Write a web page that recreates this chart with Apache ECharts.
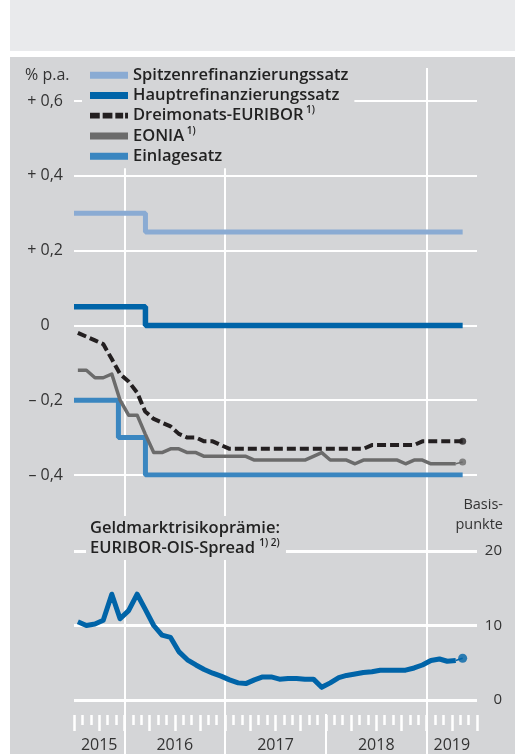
<!DOCTYPE html>
<html>
<head>
<meta charset="utf-8">
<script src="https://cdn.jsdelivr.net/npm/echarts@6/dist/echarts.min.js"></script>
<style>
html, body { margin: 0; padding: 0; background: #fff; }
#wrap { position: relative; width: 515px; height: 754px; }
#top-band { position: absolute; left: 10px; top: 0; width: 505px; height: 50.5px; background: #e9eaec; }
#panel { position: absolute; left: 10px; top: 57px; width: 505px; height: 697px; background: #d4d5d7; }
#main { position: absolute; left: 0; top: 0; width: 515px; height: 754px; }
</style>
</head>
<body>
<div id="wrap">
  <div id="top-band"></div>
  <div id="panel"></div>
  <div id="main"></div>
</div>
<script>
// monthly averages, Jul 2015 .. Apr 2019 (plotted mid-month)
var euribor = [-0.02, -0.03, -0.04, -0.05, -0.09, -0.13,
    -0.15, -0.18, -0.23, -0.25, -0.26, -0.27, -0.29, -0.30, -0.30, -0.31, -0.31, -0.32,
    -0.33, -0.33, -0.33, -0.33, -0.33, -0.33, -0.33, -0.33, -0.33, -0.33, -0.33, -0.33,
    -0.33, -0.33, -0.33, -0.33, -0.33, -0.32, -0.32, -0.32, -0.32, -0.32, -0.32, -0.31,
    -0.31, -0.31, -0.31, -0.31];
var eonia = [-0.12, -0.12, -0.14, -0.14, -0.13, -0.20,
    -0.24, -0.24, -0.29, -0.34, -0.34, -0.33, -0.33, -0.34, -0.34, -0.35, -0.35, -0.35,
    -0.35, -0.35, -0.35, -0.36, -0.36, -0.36, -0.36, -0.36, -0.36, -0.36, -0.35, -0.34,
    -0.36, -0.36, -0.36, -0.37, -0.36, -0.36, -0.36, -0.36, -0.36, -0.37, -0.36, -0.36,
    -0.37, -0.37, -0.37, -0.37];
var spread = [10.5, 10.0, 10.2, 10.7, 14.2, 10.9,
    12.0, 14.2, 12.2, 10.0, 8.7, 8.4, 6.5, 5.4, 4.7, 4.1, 3.6, 3.2,
    2.7, 2.3, 2.2, 2.7, 3.1, 3.1, 2.8, 2.9, 2.9, 2.8, 2.8, 1.7,
    2.3, 3.0, 3.3, 3.5, 3.7, 3.8, 4.0, 4.0, 4.0, 4.0, 4.3, 4.7,
    5.3, 5.5, 5.2, 5.3];

// latest daily values
var lastDate = '2019-05-10';
var lastEuribor = -0.31;
var lastEonia = -0.365;
var lastSpread = 5.6;

// ECB key rates at change dates
var rateDates = ['2015-07-01', '2015-12-09', '2016-03-16', '2019-05-10'];
var spitzen = [0.30, 0.30, 0.25, 0.25];
var haupt = [0.05, 0.05, 0.00, 0.00];
var einlage = [-0.20, -0.30, -0.40, -0.40];

var yearLabels = ['2015', '2016', '2017', '2018', '2019'];
var yearLabelPos = [3, 12, 24, 36, 45];   // month index of label centre
var yearBounds = [6, 18, 30, 42];         // month index of 1 January
var fullYearLines = [6, 18, 42];

var axisStart = '2015-07-01', axisEnd = '2019-07-01';

var months = [];
for (var y = 2015, m = 7; months.length < euribor.length; m++) {
    if (m > 12) { m = 1; y++; }
    months.push(y + '-' + (m < 10 ? '0' : '') + m + '-15');
}
var monthTicks = [];
for (var i = 0; i <= 48; i++) monthTicks.push(i);

function pairs(xs, ys) {
    return xs.map(function (x, i) { return [x, ys[i]]; });
}

var FONT = "'Open Sans', sans-serif";
var GRID_L = 74, GRID_R = 38;
var supStyle = { fontFamily: FONT, fontSize: 10, fontWeight: 600, color: '#222', verticalAlign: 'top', lineHeight: 12 };

function fmtRate(v) {
    if (Math.abs(v) < 1e-9) return '0{h|,0}';
    return (v > 0 ? '+ ' : '– ') + Math.abs(v).toFixed(1).replace('.', ',');
}

var chart = echarts.init(document.getElementById('main'));

chart.setOption({
    animation: false,
    backgroundColor: 'transparent',
    graphic: [
        {
            type: 'text', x: 25, y: 75,
            style: { text: '% p.a.', fontFamily: FONT, fontSize: 16, fill: '#333', verticalAlign: 'middle' }
        },
        {
            type: 'text', x: 503, y: 495,
            style: { text: 'Basis-\npunkte', fontFamily: FONT, fontSize: 14.5, fill: '#333', align: 'right', verticalAlign: 'top', lineHeight: 20 }
        }
    ],
    title: {
        text: 'Geldmarktrisikoprämie:\nEURIBOR-OIS-Spread {sup|1) 2)}',
        left: 86, top: 516,
        padding: [2, 6, 2, 4],
        backgroundColor: '#d4d5d7',
        textStyle: {
            fontFamily: FONT, fontSize: 16.5, fontWeight: 600, color: '#222', lineHeight: 20,
            rich: { sup: supStyle }
        }
    },
    legend: {
        orient: 'vertical',
        left: 82, top: 63,
        padding: [2, 6, 2, 8],
        backgroundColor: '#d4d5d7',
        itemWidth: 38, itemHeight: 7, itemGap: 0,
        selectedMode: false,
        itemStyle: { borderWidth: 0 },
        textStyle: {
            fontFamily: FONT, fontSize: 16.5, fontWeight: 600, color: '#222', lineHeight: 20.25,
            rich: { sup: supStyle }
        },
        formatter: function (name) {
            return (name === 'Dreimonats-EURIBOR' || name === 'EONIA') ? name + '{sup| 1)}' : name;
        },
        data: [
            { name: 'Spitzenrefinanzierungssatz', icon: 'rect' },
            { name: 'Hauptrefinanzierungssatz', icon: 'rect' },
            { name: 'Dreimonats-EURIBOR', icon: 'path://M0,0h10v6h-10z M13,0h10v6h-10z M26,0h8v6h-8z M36,0h3v6h-3z' },
            { name: 'EONIA', icon: 'rect' },
            { name: 'Einlagesatz', icon: 'rect' }
        ]
    },
    grid: [
        { left: GRID_L, right: GRID_R, top: 101, height: 374 },
        { left: GRID_L, right: GRID_R, top: 551, height: 149 },
        { left: GRID_L, right: GRID_R, top: 68, height: 686 }
    ],
    xAxis: [
        { type: 'time', gridIndex: 0, min: axisStart, max: axisEnd, show: false },
        { type: 'time', gridIndex: 1, min: axisStart, max: axisEnd, show: false },
        {   // monthly ticks + year labels
            type: 'category', gridIndex: 1, data: monthTicks, boundaryGap: false,
            position: 'bottom', offset: 15,
            axisLine: { show: false },
            axisTick: { show: true, interval: 0, length: 10, lineStyle: { color: '#fff', width: 2.5 } },
            axisLabel: {
                show: true, margin: 22,
                interval: function (idx) { return yearLabelPos.indexOf(idx) >= 0; },
                formatter: function (v, idx) { return yearLabels[yearLabelPos.indexOf(idx)] || ''; },
                fontFamily: FONT, fontSize: 16, color: '#333'
            },
            splitLine: { show: false }
        },
        {   // quarterly ticks
            type: 'category', gridIndex: 1, data: monthTicks, boundaryGap: false,
            position: 'bottom', offset: 15,
            axisLine: { show: false },
            axisTick: { show: true, interval: function (idx) { return idx % 3 === 0; }, length: 16, lineStyle: { color: '#fff', width: 2.5 } },
            axisLabel: { show: false },
            splitLine: { show: false }
        },
        {   // year boundaries in the tick band
            type: 'category', gridIndex: 1, data: monthTicks, boundaryGap: false,
            position: 'bottom', offset: 14,
            axisLine: { show: false },
            axisTick: { show: true, interval: function (idx) { return yearBounds.indexOf(idx) >= 0; }, length: 42, lineStyle: { color: '#fff', width: 2 } },
            axisLabel: { show: false },
            splitLine: { show: false }
        },
        {   // full-height year lines
            type: 'category', gridIndex: 2, data: monthTicks, boundaryGap: false,
            axisLine: { show: false }, axisTick: { show: false }, axisLabel: { show: false },
            splitLine: { show: true, interval: function (idx) { return fullYearLines.indexOf(idx) >= 0; }, lineStyle: { color: '#fff', width: 2 } }
        }
    ],
    yAxis: [
        {
            type: 'value', gridIndex: 0, min: -0.4, max: 0.6, interval: 0.2,
            axisLine: { show: false }, axisTick: { show: false },
            axisLabel: {
                margin: 11, formatter: fmtRate,
                fontFamily: FONT, fontSize: 16, color: '#333',
                rich: { h: { fontFamily: FONT, fontSize: 16, color: 'rgba(0,0,0,0)' } }
            },
            splitLine: { show: true, lineStyle: { color: '#ffffff', width: 2, type: 'solid', opacity: 1 } }
        },
        {
            type: 'value', gridIndex: 1, min: 0, max: 20, interval: 10, position: 'right',
            axisLine: { show: false }, axisTick: { show: false },
            axisLabel: { margin: 25, align: 'right', fontFamily: FONT, fontSize: 15, color: '#333' },
            splitLine: { show: true, lineStyle: { color: '#fefefe', width: 3, type: 'solid', opacity: 1 } }
        },
        { type: 'value', gridIndex: 2, min: 0, max: 1, show: false }
    ],
    series: [
        {
            name: 'Spitzenrefinanzierungssatz', type: 'line', step: 'end', xAxisIndex: 0, yAxisIndex: 0,
            color: '#8aabd3', symbol: 'none', lineStyle: { width: 5 },
            data: pairs(rateDates, spitzen)
        },
        {
            name: 'Hauptrefinanzierungssatz', type: 'line', step: 'end', xAxisIndex: 0, yAxisIndex: 0,
            color: '#0064a8', symbol: 'none', lineStyle: { width: 5.5 },
            data: pairs(rateDates, haupt)
        },
        {
            name: 'Einlagesatz', type: 'line', step: 'end', xAxisIndex: 0, yAxisIndex: 0,
            color: '#3a86c0', symbol: 'none', lineStyle: { width: 5 },
            data: pairs(rateDates, einlage)
        },
        {
            name: 'EONIA', type: 'line', xAxisIndex: 0, yAxisIndex: 0,
            color: '#6b6b6b', symbol: 'none', lineStyle: { width: 3.5, join: 'round' },
            data: pairs(months, eonia)
        },
        {
            name: 'EONIA last', type: 'line', xAxisIndex: 0, yAxisIndex: 0,
            color: '#6b6b6b', symbol: 'none', lineStyle: { width: 1.5 },
            data: [[months[months.length - 1], eonia[eonia.length - 1]], [lastDate, lastEonia]]
        },
        {
            name: 'Dreimonats-EURIBOR', type: 'line', xAxisIndex: 0, yAxisIndex: 0,
            color: '#231f20', symbol: 'none', lineStyle: { width: 4, type: [9, 4], cap: 'butt' },
            data: pairs(months, euribor).concat([[lastDate, lastEuribor]])
        },
        {
            name: 'Spread', type: 'line', xAxisIndex: 1, yAxisIndex: 1,
            color: '#0064a8', symbol: 'none', lineStyle: { width: 5, join: 'round' },
            data: pairs(months, spread)
        },
        {
            name: 'Spread last', type: 'line', xAxisIndex: 1, yAxisIndex: 1,
            color: '#0064a8', symbol: 'none', lineStyle: { width: 1.5 },
            data: [[months[months.length - 1], spread[spread.length - 1]], [lastDate, lastSpread]]
        },
        {
            name: 'dots', type: 'scatter', xAxisIndex: 0, yAxisIndex: 0, symbolSize: 7, z: 5,
            data: [
                { value: [lastDate, lastEuribor], itemStyle: { color: '#231f20' } },
                { value: [lastDate, lastEonia], itemStyle: { color: '#6b6b6b' } }
            ]
        },
        {
            name: 'dots2', type: 'scatter', xAxisIndex: 1, yAxisIndex: 1, symbolSize: 9, z: 5,
            color: '#0064a8',
            data: [[lastDate, lastSpread]]
        }
    ]
});
</script>
</body>
</html>
